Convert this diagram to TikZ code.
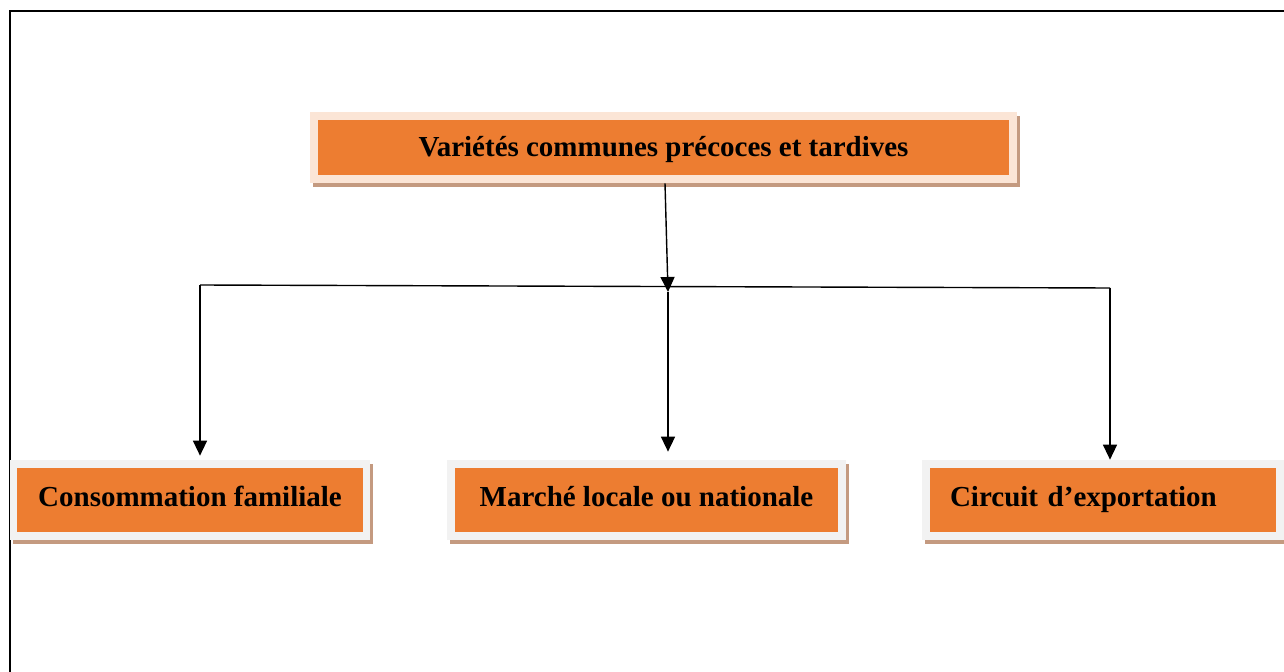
\documentclass[tikz,border=0pt]{standalone}
\usepackage{fontspec}
\setmainfont{Liberation Serif}
\usepackage{xcolor}
\usetikzlibrary{arrows.meta,shadows}
\definecolor{boxorange}{HTML}{ED7D31}
\definecolor{boxpeach}{HTML}{FBE5D6}
\definecolor{boxgrey}{HTML}{F2F2F2}
\definecolor{boxshade}{HTML}{C49A80}

\begin{document}
\begin{tikzpicture}[
  x=0.02cm, y=-0.02cm,
  font=\fontsize{16.5}{19}\selectfont\bfseries,
  outer/.style={fill=boxgrey, minimum height=1.6cm, inner sep=0pt, drop shadow={shadow xshift=0.06cm, shadow yshift=-0.08cm, fill=boxshade, opacity=1}},
  inner/.style={fill=boxorange, minimum height=1.28cm, inner sep=0pt, text height=0.46cm, text depth=0.2cm},
  ar/.style={-{Triangle[length=3mm,width=2.8mm]}, line width=0.8pt},
  ln/.style={line width=0.8pt},
]
\useasboundingbox (0,0) rectangle (1284,672);
\draw[line width=1.1pt] (10,672) -- (10,11) -- (1284,11);
\node[outer, fill=boxpeach, minimum width=14.14cm, minimum height=1.42cm] (topbg) at (663.5,147.5) {};
\node[inner, minimum width=13.84cm, minimum height=1.12cm, text depth=0.08cm] (top) at (topbg.center) {Variétés communes précoces et tardives};
\node[outer, minimum width=7.2cm] (consbg) at (190,500) {};
\node[inner, minimum width=6.92cm] (cons) at (consbg.center) {Consommation familiale};
\node[outer, minimum width=7.98cm] (marchebg) at (646.5,500) {};
\node[inner, minimum width=7.68cm] (marche) at (marchebg.center) {Marché locale ou nationale};
\node[outer, minimum width=7.24cm] (exportbg) at (1103,500) {};
\node[inner, minimum width=6.92cm, text width=6.12cm, align=left] (export) at (exportbg.center) {Circuit d’exportation};
\coordinate (hl) at (200,285);
\coordinate (hr) at (1110,288);
\coordinate (hm) at (668,292);
\draw[ar] ([xshift=0.03cm]topbg.south) -- (hm);
\draw[ln] (hl) -- (hr);
\draw[ar] (hl) -- ([yshift=0.08cm]hl |- consbg.north);
\draw[ar] (hm) -- ([yshift=0.16cm]hm |- marchebg.north);
\draw[ar] (hr) -- (hr |- exportbg.north);
\end{tikzpicture}
\end{document}
